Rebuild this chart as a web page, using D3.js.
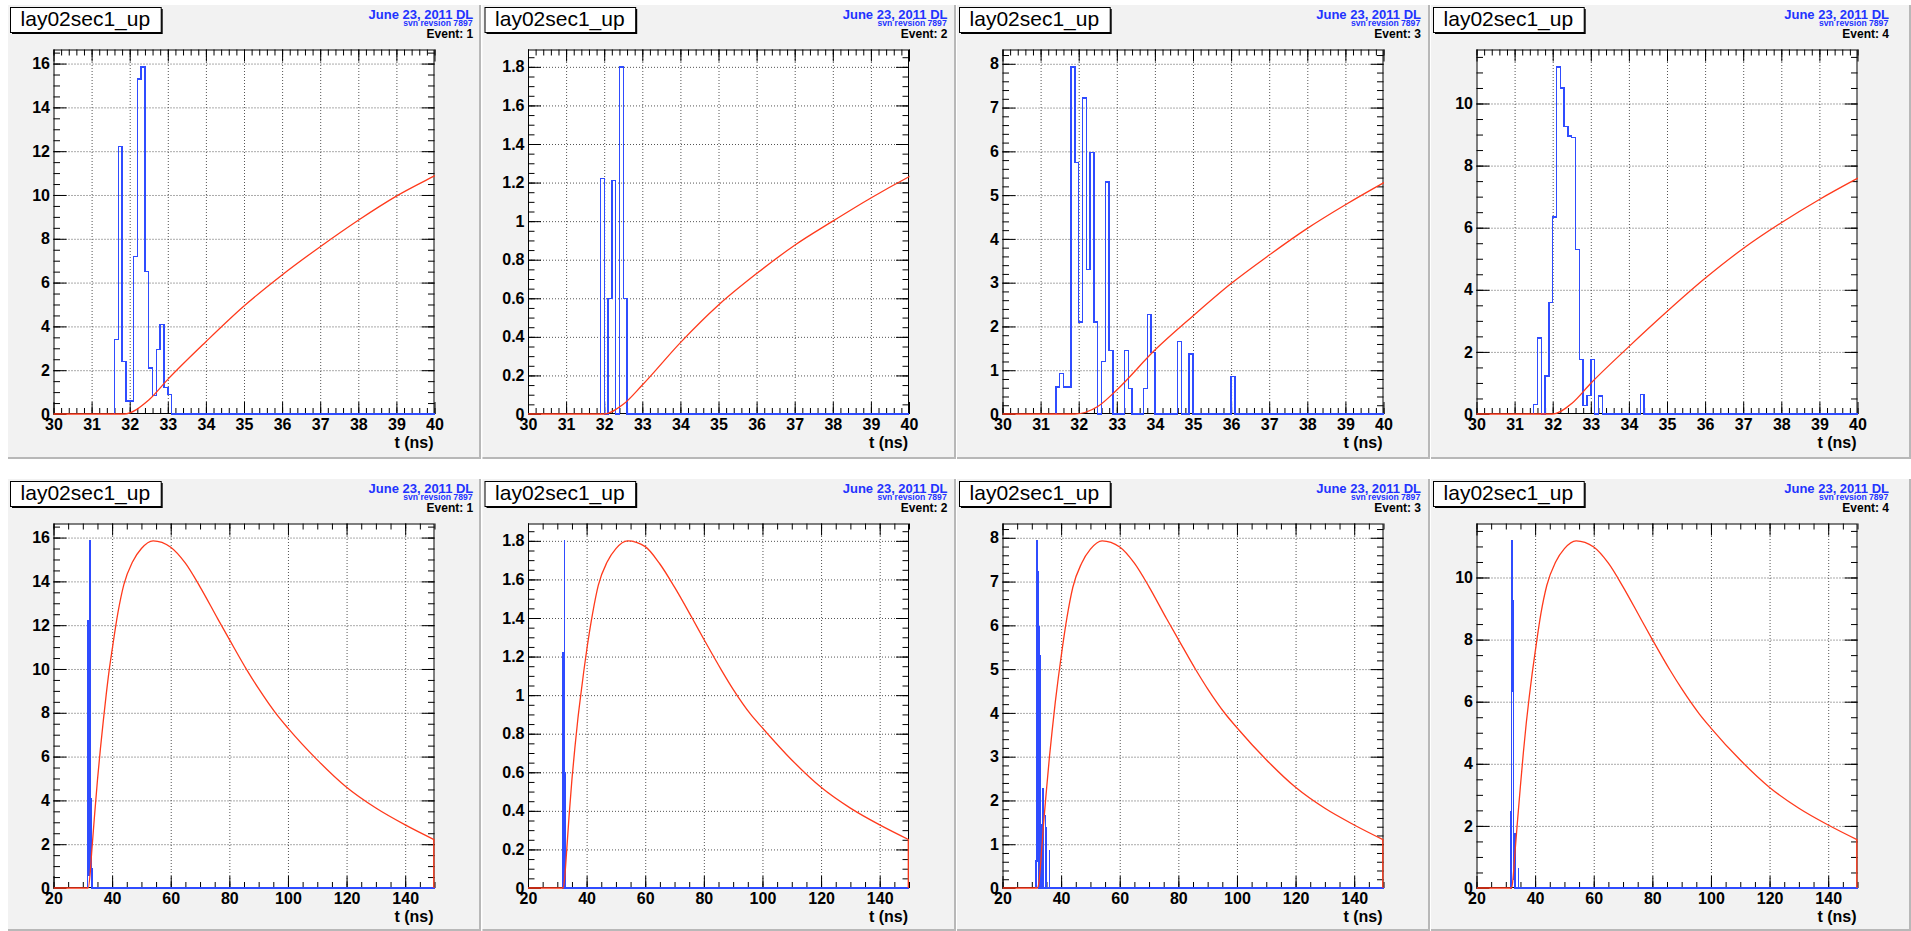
<!DOCTYPE html>
<html>
<head>
<meta charset="utf-8">
<script src="https://cdn.jsdelivr.net/npm/d3@7"></script>
<style>
  html, body { margin: 0; padding: 0; background: #ffffff; }
  svg { display: block; }
</style>
</head>
<body>
<svg id="chart" width="1911" height="931"></svg>
<script>
// ---------------- data ----------------
const histTitle = "lay02sec1_up";
const dateText = "June 23, 2011 DL";
const svnText = "svn revsion 7897";
const eventLabels = ["Event: 1", "Event: 2", "Event: 3", "Event: 4"];
const axisTitle = "t (ns)";

// blue hit-time histograms: 0.1 ns bins, first bin left edge + contents
const binWidth = 0.1;
const hitStart = [31.6, 31.9, 31.4, 31.5];
const hits1 = [3.4, 12.2, 2.4, 0.6, 0.6, 7.2, 15.3, 15.85, 6.5, 2.1, 0.85, 2.95, 4.1, 1.2, 0.9];
const hits2 = [1.22, 0, 0.6, 1.21, 0, 1.8, 0.6];
const hits3 = [0.62, 0.92, 0.62, 0.62, 7.93, 5.75, 2.1, 7.22, 3.3, 5.98, 2.1, 0, 1.2, 5.3, 1.45,
               0, 0, 0, 1.45, 0.58, 0, 0, 0, 0.58, 2.27, 1.4, 0, 0, 0, 0, 0, 0, 1.65, 0, 0, 1.37,
               0, 0, 0, 0, 0, 0, 0, 0, 0, 0, 0.85];
const hits4 = [0.3, 2.45, 0, 1.22, 3.6, 6.35, 11.18, 10.5, 9.25, 8.95, 8.9, 5.3, 1.75, 0.28, 0.6, 1.75,
               0, 0.58, 0, 0, 0, 0, 0, 0, 0, 0, 0, 0, 0.62];

// red pulse-shape curves (time in ns, amplitude)
const pulseT1 = [20, 31.85, 32.5, 33, 34, 35, 36, 37, 38, 39, 40, 42, 44, 47, 50, 54, 60, 65, 70, 76, 80, 86, 90, 96, 100, 110, 120, 130, 140, 150];
const pulseV1 = [0, 0, 0.64, 1.58, 3.3, 4.93, 6.35, 7.64, 8.85, 9.95, 10.87, 12.58, 13.85, 14.9, 15.5, 15.85, 15.56, 14.83, 13.75, 12.3, 11.35, 9.95, 9.1, 7.95, 7.3, 5.85, 4.6, 3.65, 2.88, 2.2];
const pulseT2 = [20, 32.0, 32.5, 33, 34, 35, 36, 37, 38, 39, 40, 42, 44, 47, 50, 54, 60, 65, 70, 76, 80, 86, 90, 96, 100, 110, 120, 130, 140, 150];
const pulseV2 = [0, 0, 0.05, 0.15, 0.37, 0.565, 0.728, 0.875, 1.0, 1.12, 1.23, 1.42, 1.57, 1.69, 1.76, 1.8, 1.77, 1.68, 1.56, 1.40, 1.29, 1.13, 1.03, 0.90, 0.83, 0.664, 0.522, 0.414, 0.327, 0.25];
const pulseT3 = [20, 31.9, 32.5, 33, 34, 35, 36, 37, 38, 39, 40, 42, 44, 47, 50, 54, 60, 65, 70, 76, 80, 86, 90, 96, 100, 110, 120, 130, 140, 150];
const pulseV3 = [0, 0, 0.17, 0.55, 1.46, 2.24, 2.98, 3.63, 4.24, 4.78, 5.28, 6.18, 6.87, 7.42, 7.74, 7.93, 7.79, 7.42, 6.88, 6.15, 5.68, 4.98, 4.55, 3.98, 3.66, 2.93, 2.30, 1.82, 1.44, 1.10];
const pulseT4 = [20, 32.0, 32.5, 33, 34, 35, 36, 37, 38, 39, 40, 42, 44, 47, 50, 54, 60, 65, 70, 76, 80, 86, 90, 96, 100, 110, 120, 130, 140, 150];
const pulseV4 = [0, 0, 0.34, 0.99, 2.17, 3.3, 4.37, 5.33, 6.16, 6.91, 7.59, 8.85, 9.75, 10.5, 10.93, 11.18, 10.98, 10.46, 9.7, 8.68, 8.0, 7.02, 6.42, 5.61, 5.15, 4.12, 3.24, 2.57, 2.03, 1.55];

// axis ranges and tick labels
const zoomRange = [30, 40];
const fullRange = [20, 150];
const xTicksZoom = [30, 31, 32, 33, 34, 35, 36, 37, 38, 39, 40];
const xTicksFull = [20, 40, 60, 80, 100, 120, 140];
const xMinorZoom = 0.2;
const xMinorFull = 5;
const yTicks1 = [0, 2, 4, 6, 8, 10, 12, 14, 16];
const yTicks2 = [0, 0.2, 0.4, 0.6, 0.8, 1, 1.2, 1.4, 1.6, 1.8];
const yTicks3 = [0, 1, 2, 3, 4, 5, 6, 7, 8];
const yTicks4 = [0, 2, 4, 6, 8, 10];
const yMinor = [0.5, 0.05, 0.2, 0.5];

// ---------------- layout ----------------
const hitsAll = [hits1, hits2, hits3, hits4];
const pulseTAll = [pulseT1, pulseT2, pulseT3, pulseT4];
const pulseVAll = [pulseV1, pulseV2, pulseV3, pulseV4];
const yTicksAll = [yTicks1, yTicks2, yTicks3, yTicks4];

const FONT = '"Liberation Sans", Arial, Helvetica, sans-serif';
const padX = [8, 482.5, 957, 1431];
const padW = [473, 473.5, 473, 480];
const rowY = [5, 479];
const padH = [454, 452];
const dateRight = [473.3, 947.5, 1421, 1889];
const BLUE = "#2f4cff";
const RED = "#ff3a1c";

const svg = d3.select("#chart");
const defs = svg.append("defs");

const rows = [
  { range: zoomRange, ticks: xTicksZoom, minor: xMinorZoom, closeRight: false },
  { range: fullRange, ticks: xTicksFull, minor: xMinorFull, closeRight: true }
];

function stepValues(lo, hi, step) {
  const n = Math.floor((hi - lo) / step + 1e-6);
  return d3.range(0, n + 1).map(k => +(lo + k * step).toFixed(4));
}

rows.forEach((row, r) => {
  [0, 1, 2, 3].forEach(i => {
    const px = padX[i], py = rowY[r], pw = padW[i], ph = padH[r];
    const g = svg.append("g");

    // pad background + bevel border
    g.append("rect").attr("x", px).attr("y", py).attr("width", pw).attr("height", ph)
      .attr("fill", "#f2f2f2");
    g.append("line").attr("x1", px + pw - 1).attr("x2", px + pw - 1)
      .attr("y1", py).attr("y2", py + ph).attr("stroke", "#b8b8b8").attr("stroke-width", 2);
    g.append("line").attr("x1", px).attr("x2", px + pw)
      .attr("y1", py + ph - 1).attr("y2", py + ph - 1).attr("stroke", "#b8b8b8").attr("stroke-width", 2);

    // title box with shadow
    const bx = px + 2, by = py + 2, bw = 150.7, bh = 25;
    g.append("rect").attr("x", bx + 2).attr("y", by + 2).attr("width", bw).attr("height", bh)
      .attr("fill", "#000");
    g.append("rect").attr("x", bx + 0.5).attr("y", by + 0.5).attr("width", bw).attr("height", bh)
      .attr("fill", "#fff").attr("stroke", "#000").attr("stroke-width", 1);
    g.append("text").attr("x", bx + bw / 2).attr("y", by + 18.6)
      .attr("text-anchor", "middle").attr("font-family", FONT).attr("font-size", 21)
      .attr("fill", "#000").text(histTitle);

    // info texts
    const dx = dateRight[i];
    g.append("text").attr("x", dx).attr("y", py + 14).attr("text-anchor", "end")
      .attr("font-family", FONT).attr("font-weight", "bold").attr("font-size", 13)
      .attr("fill", "#2233ff").text(dateText);
    g.append("text").attr("x", dx - 0.8).attr("y", py + 21.2).attr("text-anchor", "end")
      .attr("font-family", FONT).attr("font-weight", "bold").attr("font-size", 8.6)
      .attr("fill", "#2233ff").text(svnText);
    g.append("text").attr("x", dx).attr("y", py + 32.6).attr("text-anchor", "end")
      .attr("font-family", FONT).attr("font-weight", "bold").attr("font-size", 12)
      .attr("fill", "#000").text(eventLabels[i]);

    // frame
    const fx = px + 45.5, fy = py + 44.5, fw = 381, fh = 364.5;
    const hits = hitsAll[i];
    const yMax = Math.max(d3.max(hits), d3.max(pulseVAll[i])) * 1.05;
    const x = d3.scaleLinear().domain(row.range).range([fx, fx + fw]);
    const y = d3.scaleLinear().domain([0, yMax]).range([fy + fh, fy]);

    g.append("rect").attr("x", fx).attr("y", fy).attr("width", fw).attr("height", fh)
      .attr("fill", "#fff");

    // grid
    const gridX = row.ticks.filter(t => t > row.range[0] && t < row.range[1]);
    const gridY = yTicksAll[i].filter(t => t > 0 && t < yMax);
    g.append("g").attr("transform", `translate(0,${fy + fh})`)
      .call(d3.axisBottom(x).tickValues(gridX).tickSize(-fh).tickFormat(""))
      .call(s => s.select(".domain").remove())
      .call(s => s.selectAll("line").attr("stroke", "#555").attr("stroke-dasharray", "1,2"));
    g.append("g").attr("transform", `translate(${fx},0)`)
      .call(d3.axisLeft(y).tickValues(gridY).tickSize(-fw).tickFormat(""))
      .call(s => s.select(".domain").remove())
      .call(s => s.selectAll("line").attr("stroke", "#555").attr("stroke-dasharray", "1,2"));

    // frame border
    g.append("rect").attr("x", fx + 0.5).attr("y", fy + 0.5).attr("width", fw - 1).attr("height", fh - 1)
      .attr("fill", "none").attr("stroke", "#000").attr("stroke-width", 1);

    const fmt = d3.format("~g");
    const xMinors = stepValues(row.range[0], row.range[1], row.minor);
    const yMinors = stepValues(0, yMax, yMinor[i]);
    const styleAxis = s => {
      s.select(".domain").remove();
      s.selectAll("line").attr("stroke", "#000");
      s.selectAll("text").attr("font-family", FONT).attr("font-weight", "bold")
        .attr("font-size", 16).attr("fill", "#000");
    };

    // bottom axis (labelled)
    g.append("g").attr("transform", `translate(0,${fy + fh})`)
      .call(d3.axisBottom(x).tickValues(xMinors).tickSize(-6).tickFormat("")).call(styleAxis);
    g.append("g").attr("transform", `translate(0,${fy + fh})`)
      .call(d3.axisBottom(x).tickValues(row.ticks).tickSize(-12).tickPadding(4.5).tickFormat(fmt))
      .call(styleAxis);
    // top axis ticks
    g.append("g").attr("transform", `translate(0,${fy})`)
      .call(d3.axisTop(x).tickValues(xMinors).tickSize(-6).tickFormat("")).call(styleAxis);
    g.append("g").attr("transform", `translate(0,${fy})`)
      .call(d3.axisTop(x).tickValues(row.ticks).tickSize(-12).tickFormat("")).call(styleAxis);
    // left axis (labelled)
    g.append("g").attr("transform", `translate(${fx},0)`)
      .call(d3.axisLeft(y).tickValues(yMinors).tickSize(-6.5).tickFormat("")).call(styleAxis);
    g.append("g").attr("transform", `translate(${fx},0)`)
      .call(d3.axisLeft(y).tickValues(yTicksAll[i]).tickSize(-13).tickPadding(3.5).tickFormat(fmt))
      .call(styleAxis);
    // right axis ticks
    g.append("g").attr("transform", `translate(${fx + fw},0)`)
      .call(d3.axisRight(y).tickValues(yMinors).tickSize(-6.5).tickFormat("")).call(styleAxis);
    g.append("g").attr("transform", `translate(${fx + fw},0)`)
      .call(d3.axisRight(y).tickValues(yTicksAll[i]).tickSize(-13).tickFormat("")).call(styleAxis);

    // axis title
    g.append("text").attr("x", fx + fw - 1).attr("y", fy + fh + 33.5).attr("text-anchor", "end")
      .attr("font-family", FONT).attr("font-weight", "bold").attr("font-size", 16)
      .attr("fill", "#000").text(axisTitle);

    // clip
    const clipId = `clip-${r}-${i}`;
    defs.append("clipPath").attr("id", clipId).append("rect")
      .attr("x", fx).attr("y", fy - 1).attr("width", fw + 0.5).attr("height", fh + 2);
    const plot = g.append("g").attr("clip-path", `url(#${clipId})`);

    // blue histogram
    const s0 = hitStart[i];
    const histPts = [[s0, 0]];
    hits.forEach((v, k) => histPts.push([+(s0 + k * binWidth).toFixed(3), v]));
    histPts.push([+(s0 + hits.length * binWidth).toFixed(3), 0]);
    histPts.push([row.range[1], 0]);
    const stepLine = d3.line().x(d => x(d[0])).y(d => y(d[1])).curve(d3.curveStepAfter);
    plot.append("path").attr("d", stepLine(histPts))
      .attr("fill", "none").attr("stroke", BLUE).attr("stroke-width", 1.4)
      .attr("shape-rendering", "crispEdges");

    // red pulse
    const pts = pulseTAll[i].map((t, k) => [t, pulseVAll[i][k]]);
    const smooth = d3.line().x(d => x(d[0])).y(d => y(d[1])).curve(d3.curveMonotoneX);
    plot.append("path").attr("d", smooth(pts))
      .attr("fill", "none").attr("stroke", RED).attr("stroke-width", 1.3);
    if (row.closeRight) {
      const last = pts[pts.length - 1];
      plot.append("path").attr("d", d3.line().x(d => x(d[0]) - 0.7).y(d => y(d[1]))([last, [last[0], 0]]))
        .attr("fill", "none").attr("stroke", RED).attr("stroke-width", 1.3);
    }
  });
});
</script>
</body>
</html>
